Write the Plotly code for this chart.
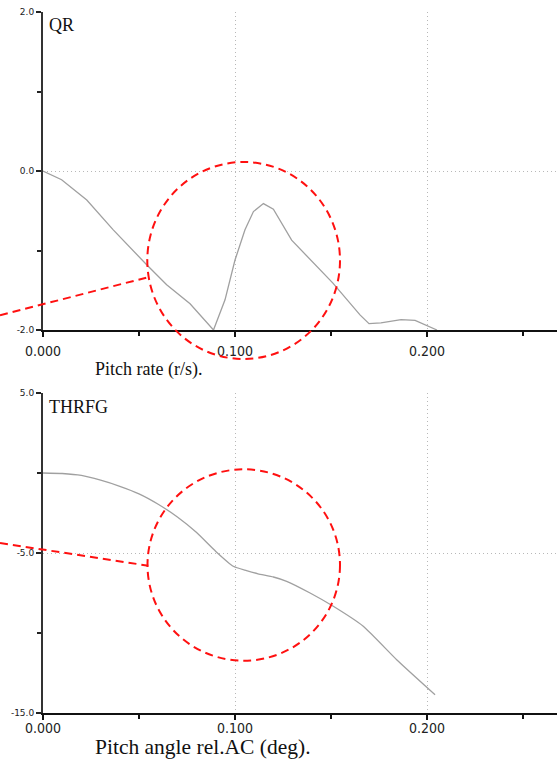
import plotly.graph_objects as go
from plotly.subplots import make_subplots

# ---- data ----
qr_x = [0.0, 0.0097, 0.0228, 0.0366, 0.054, 0.0644, 0.0766, 0.0888, 0.0948, 0.1,
        0.1052, 0.1096, 0.1148, 0.12, 0.1295, 0.151, 0.1651, 0.1698, 0.176, 0.1865,
        0.1938, 0.2052]
qr_y = [0.0, -0.11, -0.365, -0.74, -1.18, -1.43, -1.67, -2.0, -1.62, -1.12,
        -0.74, -0.51, -0.41, -0.48, -0.87, -1.41, -1.81, -1.92, -1.91, -1.87,
        -1.88, -2.0]

thr_x = [0.0, 0.01, 0.02, 0.03, 0.04, 0.05, 0.06, 0.07, 0.08, 0.09, 0.0991, 0.106,
         0.112, 0.12, 0.1269, 0.1391, 0.1512, 0.1668, 0.1842, 0.2042]
thr_y = [0.0, -0.03, -0.15, -0.45, -0.83, -1.3, -1.95, -2.75, -3.72, -4.9, -5.83, -6.1,
         -6.3, -6.5, -6.77, -7.5, -8.33, -9.58, -11.67, -13.86]

x_tickvals = [0.0, 0.1, 0.2]
x_ticktext = ["0.000", "0.100", "0.200"]
qr_tickvals = [-2.0, 0.0, 2.0]
qr_ticktext = ["-2.0", "0.0", "2.0"]
thr_tickvals = [-15.0, -5.0, 5.0]
thr_ticktext = ["-15.0", "-5.0", "5.0"]

panel_titles = ["QR", "THRFG"]
axis_titles = ["Pitch rate (r/s).", "Pitch angle rel.AC (deg)."]

# ---- layout geometry ----
W, H = 557, 764
ML, MR, MT, MB = 43, 0, 12, 51
PW, PH = W - ML - MR, H - MT - MB


def px(x):
    return (x - ML) / PW


def py(y):
    return (H - MB - y) / PH


fig = make_subplots(rows=2, cols=1)
fig.add_trace(go.Scatter(x=qr_x, y=qr_y, mode="lines",
                         line=dict(color="#a0a0a0", width=1.3)), row=1, col=1)
fig.add_trace(go.Scatter(x=thr_x, y=thr_y, mode="lines",
                         line=dict(color="#a0a0a0", width=1.3, shape="spline", smoothing=0.5)),
              row=2, col=1)

grid = dict(showgrid=True, gridcolor="#b8b8b8", griddash="1px,3px", gridwidth=1)
xcommon = dict(range=[0, PW / 1920], tickvals=x_tickvals, ticktext=x_ticktext,
               showline=True, linecolor="#111", linewidth=2, mirror=False,
               ticks="outside", ticklen=5, tickwidth=2, tickcolor="#111",
               zeroline=False,
               tickfont=dict(family="DejaVu Sans Condensed, DejaVu Sans", size=14, color="#222"),
               minor=dict(tickvals=[0.05, 0.15, 0.25], ticks="outside", ticklen=4,
                          tickwidth=2, tickcolor="#111", showgrid=False),
               **grid)
ycommon = dict(showline=True, linecolor="#333", linewidth=2,
               ticks="outside", ticklen=5, tickwidth=2, tickcolor="#222",
               zeroline=False,
               tickfont=dict(family="DejaVu Sans", size=9, color="#222"),
               **grid)

fig.update_layout(
    width=W, height=H,
    margin=dict(l=ML, r=MR, t=MT, b=MB),
    paper_bgcolor="white", plot_bgcolor="white",
    showlegend=False,
    xaxis=dict(domain=[0, 1], anchor="y", ticklabelstandoff=2, **xcommon),
    xaxis2=dict(domain=[0, 1], anchor="y2", ticklabelstandoff=-4, **xcommon),
    yaxis=dict(domain=[py(330), 1], anchor="x", range=[-2, 2],
               tickvals=qr_tickvals, ticktext=qr_ticktext,
               minor=dict(tickvals=[-1.0, 1.0], ticks="outside", ticklen=4,
                          tickwidth=2, tickcolor="#222", showgrid=False),
               **ycommon),
    yaxis2=dict(domain=[0, py(393)], anchor="x2", range=[-15, 5],
                tickvals=thr_tickvals, ticktext=thr_ticktext,
                minor=dict(tickvals=[-10.0, 0.0], ticks="outside", ticklen=4,
                           tickwidth=2, tickcolor="#222", showgrid=False),
                **ycommon),
)

# panel titles and axis titles
serif = "Liberation Serif, Times New Roman, serif"
fig.add_annotation(text=panel_titles[0], x=px(47), y=py(13), xref="paper", yref="paper",
                   xanchor="left", yanchor="top", showarrow=False,
                   font=dict(family=serif, size=18, color="#111"))
fig.add_annotation(text=panel_titles[1], x=px(47), y=py(395), xref="paper", yref="paper",
                   xanchor="left", yanchor="top", showarrow=False,
                   font=dict(family=serif, size=18, color="#111"))
fig.add_annotation(text=axis_titles[0], x=px(93), y=py(369), xref="paper", yref="paper",
                   xanchor="left", yanchor="middle", showarrow=False,
                   font=dict(family=serif, size=18, color="#111"))
fig.add_annotation(text=axis_titles[1], x=px(93), y=py(747), xref="paper", yref="paper",
                   xanchor="left", yanchor="middle", showarrow=False,
                   font=dict(family=serif, size=21.5, color="#111"))

# red dashed highlight circles and pointer lines
red = dict(color="#ff1010", width=2, dash="8px,5px")
fig.add_shape(type="circle", xref="paper", yref="paper",
              x0=px(147.3), x1=px(340), y0=py(359), y1=py(162), line=red)
fig.add_shape(type="circle", xref="paper", yref="paper",
              x0=px(147.5), x1=px(340), y0=py(660.7), y1=py(469.3), line=red)
fig.add_shape(type="line", xref="paper", yref="paper",
              x0=px(0), y0=py(315.3), x1=px(150), y1=py(276.7), line=red)
fig.add_shape(type="line", xref="paper", yref="paper",
              x0=px(0), y0=py(543), x1=px(148.3), y1=py(565.7), line=red)

fig.write_html("out.html")
